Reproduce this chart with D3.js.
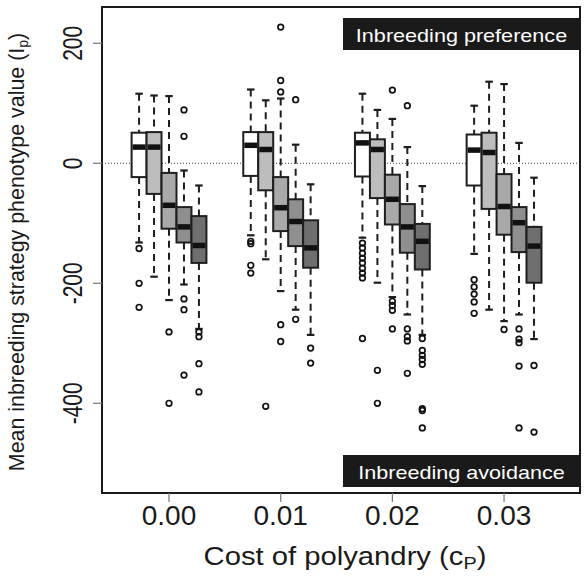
<!DOCTYPE html>
<html>
<head>
<meta charset="utf-8">
<script src="https://cdn.jsdelivr.net/npm/d3@7"></script>
<style>
  body { margin: 0; background: #fff; }
  text { font-family: "Liberation Sans", Arial, sans-serif; fill: #1a1a1a; }
</style>
</head>
<body>
<div id="chart"></div>
<script>
// cost of polyandry groups, 5 boxes per group (light -> dark)
var costs = [0.00, 0.01, 0.02, 0.03];
var costLabels = ["0.00", "0.01", "0.02", "0.03"];
var yTicks = [200, 0, -200, -400];

// box stats, one row per cost, 5 boxes per row
var whiskerHigh = [
  [116, 113, 112, -12, -37],
  [123, 105, 108, 31, -35],
  [116, 89, 74, 27, -38],
  [96, 136, 132, 34, -24]
];
var upperQ = [
  [51, 52, -16, -73, -88],
  [52, 52, -23, -60, -95],
  [51, 40, -19, -68, -101],
  [48, 51, -18, -73, -106]
];
var medians = [
  [27, 27, -70, -106, -137],
  [30, 23, -74, -97, -141],
  [34, 23, -60, -106, -130],
  [22, 18, -72, -99, -138]
];
var lowerQ = [
  [-23, -51, -109, -132, -166],
  [-21, -45, -113, -138, -174],
  [-22, -58, -102, -149, -177],
  [-37, -76, -119, -148, -199]
];
var whiskerLow = [
  [-132, -189, -228, -202, -276],
  [-120, -160, -213, -244, -286],
  [-124, -199, -223, -252, -286],
  [-151, -244, -263, -252, -293]
];
var outliers = [
  [[-142, -200, -240], [], [-281, -400], [89, 45, -226, -244, -353], [-281, -289, -334, -381]],
  [[-130, -134, -170, -183], [-405], [227, 138, 119, -269, -297], [106, -260], [-308, -333]],
  [[-133, -141, -150, -158, -166, -175, -183, -191, -292], [-345, -400], [122, -230, -237, -245, -276], [96, -276, -289, -296, -350], [-292, -312, -320, -327, -335, -409, -412, -441]],
  [[-194, -206, -218, -231, -250], [], [-277], [-276, -293, -299, -338, -441], [-337, -448]]
];

var boxFills = ["#ffffff", "#bdbdbd", "#a9a9a9", "#8f8f8f", "#6f6f6f"];
var boxStep = 0.00134; // spacing between neighbouring boxes in cost units

var W = 584, H = 577;
var pLeft = 102, pRight = 580, pTop = 7, pBottom = 493;

var x = d3.scaleLinear().domain([-0.006, 0.0368]).range([pLeft, pRight]);
var y = d3.scaleLinear().domain([-549.5, 260.5]).range([pBottom, pTop]);

var svg = d3.select("#chart").append("svg")
    .attr("width", W)
    .attr("height", H);

// flatten into one record per box
var boxes = [];
costs.forEach(function(c, gi){
  for (var bi = 0; bi < 5; bi++) {
    boxes.push({
      cost: c, k: bi,
      hi: whiskerHigh[gi][bi], q3: upperQ[gi][bi], med: medians[gi][bi],
      q1: lowerQ[gi][bi], lo: whiskerLow[gi][bi], out: outliers[gi][bi]
    });
  }
});

var bw = x(boxStep) - x(0);
function cx(d){ return x(d.cost + (d.k - 2) * boxStep); }

// zero reference line
svg.append("line")
    .attr("x1", pLeft).attr("x2", pRight)
    .attr("y1", y(0)).attr("y2", y(0))
    .attr("stroke", "#444")
    .attr("stroke-width", 1)
    .attr("stroke-dasharray", "1,2");

var g = svg.selectAll("g.box")
    .data(boxes)
  .enter().append("g")
    .attr("class", "box");

// whiskers
g.append("line")
    .attr("x1", cx).attr("x2", cx)
    .attr("y1", function(d){ return y(d.hi); })
    .attr("y2", function(d){ return y(d.q3); })
    .attr("stroke", "#1e1e1e").attr("stroke-width", 2)
    .attr("stroke-dasharray", "7,5");
g.append("line")
    .attr("x1", cx).attr("x2", cx)
    .attr("y1", function(d){ return y(d.q1); })
    .attr("y2", function(d){ return y(d.lo); })
    .attr("stroke", "#1e1e1e").attr("stroke-width", 2)
    .attr("stroke-dasharray", "7,5");

// caps
["hi", "lo"].forEach(function(key){
  g.append("line")
      .attr("x1", function(d){ return cx(d) - bw/4; })
      .attr("x2", function(d){ return cx(d) + bw/4; })
      .attr("y1", function(d){ return y(d[key]); })
      .attr("y2", function(d){ return y(d[key]); })
      .attr("stroke", "#1e1e1e").attr("stroke-width", 2.2);
});

// boxes
g.append("rect")
    .attr("x", function(d){ return cx(d) - bw/2; })
    .attr("width", bw)
    .attr("y", function(d){ return y(d.q3); })
    .attr("height", function(d){ return y(d.q1) - y(d.q3); })
    .attr("fill", function(d){ return boxFills[d.k]; })
    .attr("stroke", "#1e1e1e")
    .attr("stroke-width", 2);

// medians
g.append("line")
    .attr("x1", function(d){ return cx(d) - bw/2 + 1; })
    .attr("x2", function(d){ return cx(d) + bw/2 - 1; })
    .attr("y1", function(d){ return y(d.med); })
    .attr("y2", function(d){ return y(d.med); })
    .attr("stroke", "#111").attr("stroke-width", 5.5);

// outliers
g.selectAll("circle")
    .data(function(d){ return d.out.map(function(v){ return {d: d, v: v}; }); })
  .enter().append("circle")
    .attr("cx", function(o){ return cx(o.d); })
    .attr("cy", function(o){ return y(o.v); })
    .attr("r", 2.8)
    .attr("fill", "none")
    .attr("stroke", "#111")
    .attr("stroke-width", 1.7);

// plot frame
svg.append("rect")
    .attr("x", pLeft).attr("y", pTop)
    .attr("width", pRight - pLeft).attr("height", pBottom - pTop)
    .attr("fill", "none")
    .attr("stroke", "#1a1a1a")
    .attr("stroke-width", 2);

// y axis ticks + labels
svg.selectAll("line.ytick")
    .data(yTicks)
  .enter().append("line")
    .attr("x1", pLeft - 9).attr("x2", pLeft)
    .attr("y1", function(d){ return y(d); })
    .attr("y2", function(d){ return y(d); })
    .attr("stroke", "#777").attr("stroke-width", 1.2);
svg.selectAll("text.ylab")
    .data(yTicks)
  .enter().append("text")
    .attr("transform", function(d){ return "translate(82," + y(d) + ") rotate(-90) scale(0.75,1)"; })
    .attr("text-anchor", "middle")
    .style("font-size", "28px")
    .text(function(d){ return d; });

// x axis ticks + labels
svg.selectAll("line.xtick")
    .data(costs)
  .enter().append("line")
    .attr("x1", function(d){ return x(d); })
    .attr("x2", function(d){ return x(d); })
    .attr("y1", pBottom).attr("y2", pBottom + 9)
    .attr("stroke", "#777").attr("stroke-width", 1.2);
svg.selectAll("text.xlab")
    .data(costs)
  .enter().append("text")
    .attr("x", function(d){ return x(d); })
    .attr("y", 525)
    .attr("text-anchor", "middle")
    .style("font-size", "28px")
    .text(function(d, i){ return costLabels[i]; });

// axis titles
var yt = svg.append("text")
    .attr("transform", "translate(24,252) rotate(-90)")
    .attr("text-anchor", "middle")
    .style("font-size", "21.4px");
yt.append("tspan").text("Mean inbreeding strategy phenotype value (I");
yt.append("tspan").attr("baseline-shift", "-25%").style("font-size", "14px").text("p");
yt.append("tspan").text(")");

var xt = svg.append("text")
    .attr("transform", "translate(345,565) scale(1.17,1)")
    .attr("text-anchor", "middle")
    .style("font-size", "25px");
xt.append("tspan").text("Cost of polyandry (c");
xt.append("tspan").attr("baseline-shift", "-20%").style("font-size", "17px").text("P");
xt.append("tspan").text(")");

// region labels
var tags = [
  {text: "Inbreeding preference", y0: 18, y1: 50},
  {text: "Inbreeding avoidance", y0: 455, y1: 487}
];
tags.forEach(function(t){
  svg.append("rect")
      .attr("x", 343).attr("y", t.y0)
      .attr("width", pRight - 343).attr("height", t.y1 - t.y0)
      .attr("fill", "#1a1a1a");
  svg.append("text")
      .attr("transform", "translate(" + ((343 + pRight) / 2) + "," + (t.y1 - 8) + ") scale(1.2,1)")
      .attr("text-anchor", "middle")
      .style("font-size", "18px")
      .style("fill", "#fff")
      .text(t.text);
});
</script>
</body>
</html>
